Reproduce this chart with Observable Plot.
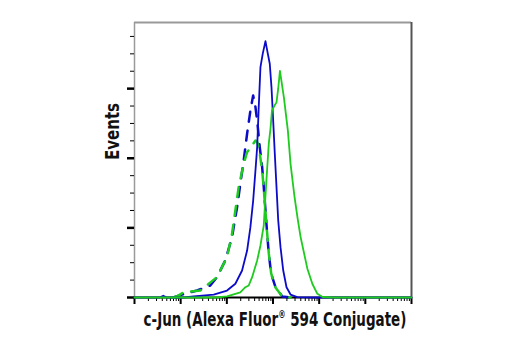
<!DOCTYPE html>
<html><head><meta charset="utf-8">
<script src="https://cdn.jsdelivr.net/npm/d3@7"></script>
<script src="https://cdn.jsdelivr.net/npm/@observablehq/plot@0.6"></script>
<style>
html,body{margin:0;padding:0;background:#fff;}
#chart{width:520px;height:350px;overflow:hidden;}
</style></head><body><div id="chart"></div>
<script>
// Fluorescence intensity (log axis) and event counts
const blueSolidX = [1, 3.5, 4.2, 5, 12, 19, 52, 101, 153, 214, 275, 324, 372, 417, 454, 491, 535, 600, 687, 748, 851, 927, 1009, 1094, 1191, 1297, 1455, 1667, 1963, 2399, 3357, 7586, 1e6];
const blueSolidY = [0, 0, 1, 0, 0, 0.6, 1.7, 4.0, 7.9, 15.5, 27.0, 40.4, 55.7, 73.0, 86.4, 109.4, 132.4, 140.1, 147.3, 142.0, 134.3, 120.9, 101.7, 82.6, 63.4, 44.3, 28.9, 15.5, 5.9, 1.7, 0.2, 0, 0];

const greenSolidX = [1, 60, 101, 196, 252, 298, 353, 454, 535, 631, 687, 748, 811, 883, 951, 1079, 1191, 1297, 1413, 1718, 2099, 2399, 2931, 3412, 3963, 5534, 7112, 9141, 11912, 20654, 1e6];
const greenSolidY = [0, 0, 0.6, 3.0, 5.9, 6.9, 11.7, 21.3, 29.9, 41.4, 58.6, 74.1, 88.5, 97.1, 107.5, 110.3, 112.1, 120.1, 130.2, 115.1, 95.9, 76.8, 57.6, 45.4, 34.7, 16.7, 7.9, 2.1, 0.3, 0, 0];

const blueDashX = [7, 8.95, 22.5, 43.8, 61.2, 92.7, 129.7, 166.7, 196.3, 231.7, 274.8, 324.3, 371.5, 416.9, 454, 516.4, 582.1, 631, 687, 748, 811, 914, 1132, 1585, 2399];
const blueDashY = [0, 1.1, 4.0, 6.9, 11.7, 21.3, 34.7, 51.9, 65.3, 78.7, 94.1, 107.5, 116.1, 109.4, 101.7, 86.4, 74.9, 63.4, 50.0, 36.6, 25.1, 13.6, 5.9, 0.6, 0];

const greenDashX = [7, 8.95, 11.5, 26.5, 61.2, 101, 129.7, 153, 180.6, 231.7, 274.8, 341, 417, 460, 516.4, 582, 631, 687, 748, 811, 914, 1132, 1585, 2399];
const greenDashY = [0, 1.1, 3.0, 4.0, 11.7, 23.2, 36.6, 50, 63.4, 76.8, 83.5, 86.8, 90.2, 89.1, 82.8, 73.0, 62.6, 49.4, 36.8, 25.3, 13.8, 5.7, 0.6, 0];

// Axis ticks (no tick labels in the original)
const xMajorTicks = [1, 10, 100, 1000, 10000, 100000, 1000000];
const xMinorTicks = [];
for (let d = 0; d < 6; d++) for (let k = 2; k <= 9; k++) xMinorTicks.push(k * Math.pow(10, d));
const yMajorTicks = [0, 40, 80, 120];
const yMinorTicks = [10, 20, 30, 50, 60, 70, 90, 100, 110, 130, 140, 150];

const xLabel = "c-Jun (Alexa Fluor® 594 Conjugate)";
const yLabel = "Events";

const BLUE = "#0c0cc8";
const GREEN = "#1ecb1e";
const FONT = "'Liberation Sans Narrow', 'Arial Narrow', 'DejaVu Sans Condensed', 'Liberation Sans', sans-serif";

const toRows = (xs, ys) => xs.map((x, i) => ({x, y: ys[i]}));
const blueSolid = toRows(blueSolidX, blueSolidY);
const greenSolid = toRows(greenSolidX, greenSolidY);
const blueDash = toRows(blueDashX, blueDashY);
const greenDash = toRows(greenDashX, greenDashY);

const svg = Plot.plot({
  width: 520, height: 350,
  marginLeft: 134, marginRight: 109, marginTop: 22, marginBottom: 53,
  style: {fontFamily: FONT, background: "#fff"},
  x: {type: "log", domain: [1, 1e6], axis: null},
  y: {domain: [0, 158], axis: null},
  marks: [
    // frame
    Plot.ruleY([158], {stroke: "#999", strokeWidth: 2}),
    Plot.ruleX([1e6], {stroke: "#555", strokeWidth: 2}),
    Plot.ruleX([1], {stroke: "#9a9a9a", strokeWidth: 1.5}),
    // x ticks
    Plot.ruleX(xMinorTicks, {x: d => d, y1: 0, y2: 0, insetBottom: -4, stroke: "#000", strokeWidth: 1}),
    Plot.ruleX(xMajorTicks, {x: d => d, y1: 0, y2: 0, insetBottom: -7, stroke: "#000", strokeWidth: 2}),
    // y ticks
    Plot.ruleY(yMinorTicks, {y: d => d, x1: 1, x2: 1, insetLeft: -4, stroke: "#000", strokeWidth: 1}),
    Plot.ruleY(yMajorTicks, {y: d => d, x1: 1, x2: 1, insetLeft: -7, stroke: "#000", strokeWidth: 2.5}),
    // baseline
    Plot.ruleY([0], {stroke: "#000", strokeWidth: 2}),
    // histograms
    Plot.line(blueDash, {x: "x", y: "y", stroke: BLUE, strokeWidth: 2.5, strokeDasharray: "10,9"}),
    Plot.line(greenDash, {x: "x", y: "y", stroke: GREEN, strokeWidth: 2.5, strokeDasharray: "10,9"}),
    Plot.line(blueSolid, {x: "x", y: "y", stroke: BLUE, strokeWidth: 1.8}),
    Plot.line(greenSolid, {x: "x", y: "y", stroke: GREEN, strokeWidth: 1.8}),
    // labels
    Plot.text([yLabel], {text: d => d, frameAnchor: "left", dx: -22, rotate: -90, fontSize: 20, fontWeight: "bold", fill: "#111"}),
    Plot.text([xLabel], {text: d => d, frameAnchor: "bottom", dx: 2, dy: 28, fontSize: 20, fontWeight: "bold", fill: "#111"})
  ]
});

document.getElementById("chart").appendChild(svg);

d3.select(svg).selectAll("text").each(function() {
  const t = d3.select(this);
  const s = this.textContent;
  if (s === xLabel) {
    const parts = s.split("®");
    t.text(null);
    t.append("tspan").text(parts[0]);
    t.append("tspan").attr("font-size", 11).attr("dy", -8).text("®");
    t.append("tspan").attr("dy", 8).text(parts[1]);
    // condense horizontally to the reference's width with a uniform scale
    const g = d3.select(this.parentNode).insert("g", () => this);
    g.node().appendChild(this);
    const bb = g.node().getBBox();
    const sx = 263 / bb.width;
    const cx = bb.x + bb.width / 2;
    g.attr("transform", `translate(${cx},0) scale(${sx},1) translate(${-cx},0)`);
  } else if (s === yLabel) {
    t.attr("textLength", 57).attr("lengthAdjust", "spacingAndGlyphs");
  }
});
</script>
</body></html>
